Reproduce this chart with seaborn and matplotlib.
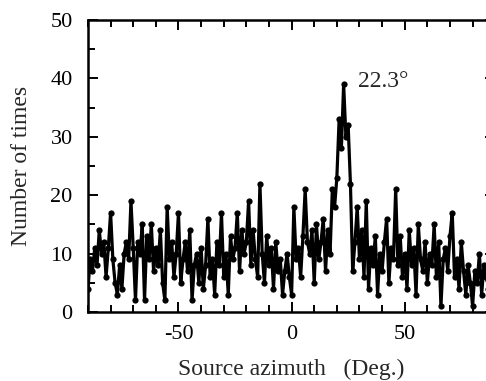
import numpy as np
import pandas as pd
import matplotlib
matplotlib.use("Agg")
import matplotlib.pyplot as plt
from matplotlib.ticker import MultipleLocator
import seaborn as sns

# Source azimuth (deg), 1-degree bins from -90 to 90
azimuth = list(range(-90, 91))
counts = [
    4, 9, 7, 11, 8, 14, 10, 12, 6, 11,      # -90..-81
    17, 9, 5, 3, 8, 4, 10, 12, 9, 19,       # -80..-71
    11, 2, 12, 10, 15, 2, 13, 9, 15, 7,     # -70..-61
    11, 8, 14, 5, 2, 18, 9, 12, 6, 10,      # -60..-51
    17, 5, 9, 12, 7, 14, 2, 8, 10, 5,       # -50..-41
    11, 4, 8, 16, 6, 9, 3, 12, 8, 17,       # -40..-31
    6, 10, 3, 13, 9, 11, 17, 7, 14, 10,     # -30..-21
    12, 19, 8, 14, 9, 6, 22, 10, 5, 13,     # -20..-11
    8, 11, 4, 12, 7, 9, 3, 7, 10, 6,        # -10..-1
    3, 18, 9, 11, 6, 13, 21, 12, 10, 14,    # 0..9
    5, 15, 9, 12, 16, 7, 14, 10, 21, 18,    # 10..19
    23, 33, 28, 39, 30, 32, 22, 7, 12, 18,  # 20..29
    9, 14, 6, 19, 4, 11, 8, 13, 3, 10,      # 30..39
    7, 12, 16, 5, 11, 9, 21, 8, 13, 6,      # 40..49
    10, 4, 14, 8, 11, 3, 15, 9, 7, 12,      # 50..59
    5, 10, 8, 15, 6, 12, 1, 9, 11, 7,       # 60..69
    13, 17, 6, 9, 4, 12, 7, 3, 8, 5,        # 70..79
    1, 7, 5, 10, 3, 8, 6, 4, 9, 5, 7,       # 80..90
]
peak_label = "22.3°"

df = pd.DataFrame({"azimuth": azimuth, "count": counts})

sns.set_style("ticks")
plt.rcParams["font.family"] = ["Liberation Serif", "DejaVu Serif"]
plt.rcParams["axes.unicode_minus"] = False

fig = plt.figure(figsize=(4.86, 3.81), dpi=100)
ax = fig.add_axes([0.181, 0.181, 0.838, 0.7665])

sns.lineplot(data=df, x="azimuth", y="count", ax=ax, color="black",
             linewidth=2.3, marker="o", markersize=4.5, markeredgewidth=0,
             markerfacecolor="black")

ax.set_xlim(-90, 90)
ax.set_ylim(0, 50)
ax.xaxis.set_major_locator(MultipleLocator(50))
ax.xaxis.set_minor_locator(MultipleLocator(10))
ax.yaxis.set_major_locator(MultipleLocator(10))
ax.yaxis.set_minor_locator(MultipleLocator(5))
ax.tick_params(which="both", direction="in", top=True, right=True,
               labelsize=16, width=1.4, colors="black")
ax.tick_params(axis="x", which="major", length=7, pad=9)
ax.tick_params(axis="y", which="major", length=7, pad=11)
ax.tick_params(which="minor", length=5)
for s in ax.spines.values():
    s.set_linewidth(1.8)
    s.set_color("black")

ax.set_xlabel("Source azimuth   (Deg.)", fontsize=17, labelpad=11)
ax.set_ylabel("Number of times", fontsize=17, labelpad=13)
ax.text(29.5, 39.5, peak_label, fontsize=17, va="center", ha="left")

fig.savefig("out.png", dpi=100)
